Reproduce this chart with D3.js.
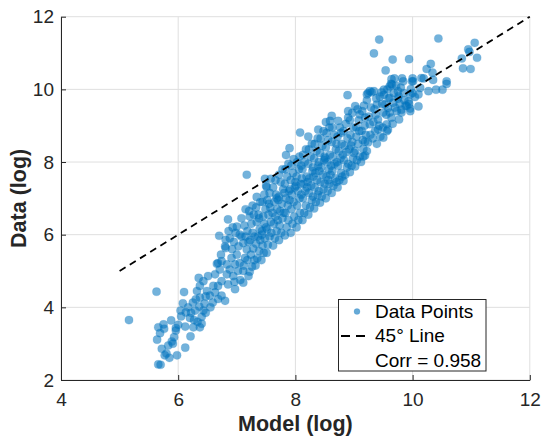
<!DOCTYPE html>
<html><head><meta charset="utf-8">
<script src="https://cdn.jsdelivr.net/npm/d3@7"></script>
<style>body{margin:0;background:#fff}svg{display:block}text{font-family:"Liberation Sans",Arial,Helvetica,sans-serif}</style>
</head><body><svg id="c" width="545" height="439"></svg>
<script>
// ---- data (model log, data log) ----
const xTicks = [4, 6, 8, 10, 12];
const yTicks = [2, 4, 6, 8, 10, 12];
const xLabel = "Model (log)";
const yLabel = "Data (log)";
const legendLabels = ["Data Points", "45° Line", "Corr = 0.958"];
const refLine = [[5, 5], [12, 12]];

const lowerCluster = [
[5.16,3.65],[5.63,4.43],[6.10,4.42],[5.66,3.45],[5.75,3.53],[5.88,3.64],[5.69,3.29],[5.64,3.11],[5.72,2.86],[5.77,2.68],
[5.85,2.61],[5.66,2.43],[5.70,2.42],[5.98,2.68],[6.12,2.89],[5.93,3.18],[5.91,3.00],[5.96,3.36],[6.21,3.20],[6.04,3.91],
[6.08,4.11],[6.13,3.86],[6.17,4.00],[6.25,4.13],[6.29,3.91],[6.36,4.02],[6.20,3.71],[6.27,3.65],[6.12,3.47],[6.37,3.45],
[6.40,3.74],[6.43,3.91],[6.37,4.27],[6.32,4.45],[6.37,4.59],[6.35,4.81],[6.43,4.72],[6.51,4.86],[6.49,4.45],[6.54,4.32],
[6.59,4.13],[6.63,4.41],[6.60,4.59],[5.76,3.41],[5.80,2.73],[5.83,2.95],[5.89,3.06],[6.00,3.52],[5.96,3.43],[6.22,3.85],
[6.30,4.22],[6.45,4.10],[6.47,3.85],[6.55,4.00],[6.47,4.30],[6.26,3.45],[6.33,3.60],[6.05,3.75],[6.40,3.55]
];
const middleLow = [
[6.68,4.23],[6.74,4.32],[6.80,4.18],[6.68,4.59],[6.74,4.72],[6.63,4.91],[6.71,5.04],[6.68,5.22],[6.73,5.45],[6.85,4.63],
[6.83,4.91],[6.88,5.04],[6.94,4.86],[6.97,5.18],[6.91,5.36],[6.83,5.18],[7.00,5.45],[7.05,5.22],[7.11,5.00],[7.14,5.36],
[7.17,5.59],[7.03,5.68],[7.11,5.77],[6.80,5.68],[6.88,5.90],[7.08,5.95],[6.70,5.97],[6.86,6.10],[7.15,5.95],[6.81,5.86],
[6.81,5.63],[6.74,5.27],[6.66,5.20],[7.20,4.86],[7.11,4.68],[6.97,4.50],[6.92,5.60],[6.95,5.80],[6.98,6.05],[7.00,6.22],
[6.85,6.42],[7.08,6.45],[7.02,5.00],[6.96,4.70],[7.06,4.75],[7.12,5.15],[7.18,5.30],[7.20,5.80],[7.18,6.10],[7.13,6.25],
[7.22,6.50],[7.15,6.70],[7.17,7.65],[7.05,6.00],[6.93,6.20],[7.22,4.98],[7.26,5.12],[7.24,5.45],[7.28,5.62],[7.23,5.85],
[7.27,6.05],[7.25,6.30],[7.29,6.55],[7.27,6.80],[7.30,5.30],[7.30,5.95],[7.21,6.65],[7.32,5.15],[7.35,5.35],[7.38,5.55],
[7.33,5.75],[7.36,5.95],[7.39,6.15],[7.34,6.35],[7.37,6.55],[7.33,6.75],[7.34,7.04],[7.40,6.90],[7.38,6.45],[7.40,5.85],
[7.42,5.30],[7.46,5.50],[7.44,5.70],[7.48,5.90],[7.43,6.10],[7.47,6.30],[7.45,6.50],[7.49,6.70],[7.44,6.90],[7.47,7.10],
[7.48,7.54],[7.43,6.00],[7.50,6.20]
];
const middleBand = [
[7.51,5.50],[7.53,5.72],[7.56,5.95],[7.52,6.15],[7.58,6.35],[7.54,6.55],[7.57,6.75],[7.52,6.95],[7.56,7.15],[7.51,7.31],
[7.58,7.54],[7.50,7.35],[7.59,6.05],[7.55,6.85],
[7.62,5.70],[7.65,5.90],[7.68,6.10],[7.63,6.30],[7.66,6.50],[7.69,6.70],[7.64,6.90],[7.67,7.10],[7.62,7.30],[7.66,7.50],
[7.70,6.40],[7.61,6.60],[7.68,7.00],
[7.72,5.85],[7.76,6.05],[7.73,6.25],[7.78,6.45],[7.74,6.65],[7.77,6.85],[7.72,7.05],[7.79,7.25],[7.75,7.45],[7.72,7.65],
[7.78,7.80],[7.80,6.60],[7.71,6.95],
[7.82,5.98],[7.85,6.20],[7.88,6.40],[7.83,6.60],[7.87,6.80],[7.84,7.00],[7.89,7.20],[7.82,7.40],[7.86,7.60],[7.83,7.80],
[7.84,8.19],[7.88,7.95],[7.90,6.95],[7.81,7.15],
[7.92,6.05],[7.95,6.30],[7.98,6.50],[7.93,6.70],[7.97,6.90],[7.94,7.10],[7.99,7.30],[7.92,7.50],[7.96,7.70],[7.93,7.90],
[7.97,8.08],[7.90,8.38],[8.00,7.45],[7.91,7.25],
[8.02,6.20],[8.05,6.40],[8.08,6.60],[8.03,6.80],[8.07,7.00],[8.04,7.20],[8.09,7.40],[8.02,7.60],[8.06,7.80],[8.03,8.00],
[8.07,8.15],[8.08,8.81],[8.10,7.10],[8.01,7.35],[8.10,7.90],
[8.12,6.40],[8.15,6.60],[8.18,6.80],[8.13,7.00],[8.17,7.20],[8.14,7.40],[8.19,7.60],[8.12,7.80],[8.16,8.00],[8.13,8.20],
[8.18,8.35],[8.22,8.70],[8.20,7.30],[8.11,7.55],
[8.22,6.55],[8.25,6.75],[8.28,6.95],[8.23,7.15],[8.27,7.35],[8.24,7.55],[8.29,7.75],[8.22,7.95],[8.26,8.15],[8.23,8.35],
[8.28,8.50],[8.30,7.05],[8.21,7.45],[8.30,7.85],
[8.32,6.72],[8.35,6.90],[8.38,7.10],[8.33,7.30],[8.37,7.50],[8.34,7.70],[8.39,7.90],[8.32,8.10],[8.36,8.30],[8.33,8.50],
[8.38,8.65],[8.40,7.20],[8.31,7.60],[8.40,8.00],[8.39,8.89],
[8.42,6.88],[8.45,7.05],[8.48,7.25],[8.43,7.45],[8.47,7.65],[8.44,7.85],[8.49,8.05],[8.42,8.25],[8.46,8.45],[8.43,8.65],
[8.48,8.85],[8.50,7.40],[8.41,7.75],[8.50,8.15]
];
const upperBand = [
[8.52,7.00],[8.55,7.20],[8.58,7.40],[8.53,7.60],[8.57,7.80],[8.54,8.00],[8.59,8.20],[8.52,8.40],[8.56,8.60],[8.53,8.80],
[8.58,8.95],[8.56,7.50],[8.60,7.65],[8.51,8.10],[8.52,9.10],
[8.62,7.15],[8.65,7.35],[8.68,7.55],[8.63,7.75],[8.67,7.95],[8.64,8.15],[8.69,8.35],[8.62,8.55],[8.66,8.75],[8.63,8.95],
[8.62,9.27],[8.70,7.45],[8.61,7.90],[8.70,8.50],[8.59,9.13],
[8.72,7.30],[8.75,7.50],[8.78,7.70],[8.73,7.90],[8.77,8.10],[8.74,8.30],[8.79,8.50],[8.72,8.70],[8.76,8.95],[8.73,9.13],
[8.80,7.60],[8.71,8.00],[8.78,8.80],
[8.82,7.48],[8.85,7.65],[8.88,7.85],[8.83,8.05],[8.87,8.27],[8.84,8.45],[8.89,8.65],[8.82,8.85],[8.86,9.05],[8.90,9.22],
[8.90,9.40],[8.89,9.84],[8.81,8.20],[8.90,7.95],
[8.93,7.72],[8.96,7.90],[8.98,8.10],[8.92,8.35],[8.97,8.55],[8.94,8.75],[8.99,8.95],[8.93,9.15],[8.97,9.35],[9.02,9.54],
[8.95,8.45],[9.00,8.25],
[9.02,7.88],[9.05,8.05],[9.02,8.31],[9.07,8.50],[9.04,8.70],[9.04,8.95],[9.08,9.15],[9.10,9.31],[9.06,9.45],[9.10,8.15],
[9.09,8.85],
[9.12,8.00],[9.16,8.36],[9.13,8.86],[9.19,8.18],[9.19,9.22],[9.15,8.60],[9.18,9.00],[9.14,9.40],[9.20,8.75],[9.17,9.55],
[9.19,8.56],[9.16,8.15],
[9.24,8.54],[9.27,9.04],[9.24,9.90],[9.22,8.30],[9.28,8.75],[9.25,9.25],[9.29,9.50],[9.22,9.70],[9.30,9.92],[9.22,9.86],
[9.27,9.95],
[9.36,8.86],[9.39,8.50],[9.39,9.58],[9.35,9.45],[9.33,9.10],[9.37,9.30],[9.32,8.65],[9.38,9.75],[9.34,9.95],[9.41,8.90],
[9.41,9.17],[9.47,9.92],[9.50,9.36],[9.45,8.70],[9.43,9.00],[9.48,9.60],[9.44,9.80],[9.49,8.95],[9.50,8.67]
];
const topCluster = [
[9.53,9.58],[9.56,9.04],[9.58,9.49],[9.57,10.00],[9.54,10.52],[9.61,9.36],[9.55,9.30],[9.59,9.75],[9.51,9.85],[9.56,8.85],
[9.58,8.89],[9.51,9.99],[9.61,10.08],[9.61,9.77],[9.64,10.28],[9.67,9.63],[9.64,9.22],[9.69,10.30],[9.66,9.05],[9.70,9.50],
[9.68,9.90],[9.63,10.15],[9.65,10.13],[9.73,9.40],[9.76,9.81],[9.77,9.17],[9.81,9.36],[9.75,9.74],[9.75,9.95],[9.72,10.10],
[9.78,9.60],[9.80,10.05],[9.84,10.22],[9.86,9.70],[9.82,10.30],[9.81,9.44],[9.88,9.55],[9.85,9.90],[9.90,9.54],[9.94,9.60],
[9.96,9.40],[9.93,9.67],[9.96,9.47],[9.96,9.86],[9.97,10.01],[9.99,10.22],[10.00,9.90],[10.00,10.30],[9.94,10.83],[10.01,10.22],
[10.04,9.79],[10.10,9.86],[10.10,9.53],[10.13,10.04],[10.15,10.31],[10.19,10.30],[10.24,10.56],[10.31,10.70],[10.34,10.46],[10.35,10.26],
[10.27,9.95],[10.40,9.99],[10.51,9.99],[10.58,10.22],[10.58,10.15],[10.44,11.40],[11.06,11.28],[10.95,11.10],[10.97,11.03],[11.10,10.87],
[10.84,10.85],[10.86,10.58],[10.99,10.56],[9.43,11.37],[9.34,10.99],[9.66,10.82]
];

// ---- drawing ----
const points = [].concat(lowerCluster, middleLow, middleBand, upperBand, topCluster);
const svg = d3.select("#c");
const x = d3.scaleLinear().domain([4, 12]).range([61, 529.8]);
const y = d3.scaleLinear().domain([2, 12]).range([380, 16.7]);
const axisCol = "#262626";
const dotFill = "rgb(0,114,189)";

// grid
const grid = svg.append("g");
grid.selectAll("line.gx").data(xTicks).join("line")
  .attr("x1", d => x(d)).attr("x2", d => x(d)).attr("y1", y(2)).attr("y2", y(12))
  .attr("stroke", "#dfdfdf").attr("stroke-width", 1);
grid.selectAll("line.gy").data(yTicks).join("line")
  .attr("y1", d => y(d)).attr("y2", d => y(d)).attr("x1", x(4)).attr("x2", x(12))
  .attr("stroke", "#dfdfdf").attr("stroke-width", 1);

// points
svg.append("g").selectAll("circle").data(points).join("circle")
  .attr("cx", d => x(d[0])).attr("cy", d => y(d[1])).attr("r", 4.1)
  .attr("fill", dotFill).attr("fill-opacity", 0.55)
  .attr("stroke", dotFill).attr("stroke-opacity", 0.3).attr("stroke-width", 0.5);

// 45 degree line
svg.append("path").datum(refLine)
  .attr("d", d3.line().x(d => x(d[0])).y(d => y(d[1])))
  .attr("stroke", "#000").attr("stroke-width", 1.8).attr("stroke-dasharray", "7,5").attr("fill", "none");

// axes
const xAxis = d3.axisBottom(x).tickValues(xTicks).tickSizeInner(-5).tickSizeOuter(0).tickPadding(13).tickFormat(d3.format("d"));
const yAxis = d3.axisLeft(y).tickValues(yTicks).tickSizeInner(-5).tickSizeOuter(0).tickPadding(7).tickFormat(d3.format("d"));
const gx = svg.append("g").attr("transform", `translate(0,${y(2)})`).call(xAxis);
const gy = svg.append("g").attr("transform", `translate(${x(4)},0)`).call(yAxis);
[gx, gy].forEach(g => {
  g.select(".domain").attr("stroke", axisCol).attr("stroke-width", 1);
  g.selectAll(".tick line").attr("stroke", axisCol);
  g.selectAll(".tick text").attr("fill", axisCol).style("font-size", "19px")
   .style("font-family", '"Liberation Sans",Arial,Helvetica,sans-serif');
});

// axis labels
svg.append("text").attr("x", (x(4) + x(12)) / 2).attr("y", 431).attr("text-anchor", "middle")
  .style("font-size", "21.5px").style("font-weight", "bold").attr("fill", axisCol).text(xLabel);
svg.append("text").attr("transform", `translate(26,${(y(2) + y(12)) / 2}) rotate(-90)`).attr("text-anchor", "middle")
  .style("font-size", "21.5px").style("font-weight", "bold").attr("fill", axisCol).text(yLabel);

// legend
const lg = svg.append("g");
lg.append("rect").attr("x", 338.5).attr("y", 299.5).attr("width", 147.5).attr("height", 71.5)
  .attr("fill", "#fff").attr("stroke", axisCol).attr("stroke-width", 1);
lg.append("circle").attr("cx", 357).attr("cy", 311.5).attr("r", 3)
  .attr("fill", dotFill).attr("fill-opacity", 0.6).attr("stroke", dotFill).attr("stroke-opacity", 0.3).attr("stroke-width", 0.5);
lg.append("line").attr("x1", 341).attr("x2", 368).attr("y1", 336).attr("y2", 336)
  .attr("stroke", "#000").attr("stroke-width", 1.8).attr("stroke-dasharray", "9,6");
lg.selectAll("text").data(legendLabels).join("text")
  .attr("x", 375).attr("y", (d, i) => 318 + i * 24.3)
  .style("font-size", "19px").attr("fill", "#000").text(d => d);
</script></body></html>
